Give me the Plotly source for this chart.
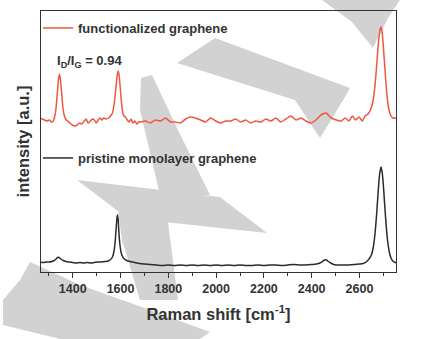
import plotly.graph_objects as go

# Raman spectra (intensity in arbitrary units, functionalized trace offset upward)
functionalized_shift = [
    1262, 1272, 1282, 1292, 1302, 1310, 1318, 1324, 1330, 1335, 1340, 1344, 1348,
    1353, 1358, 1364, 1370, 1378, 1388, 1398, 1408, 1418, 1428, 1438, 1448, 1456,
    1464, 1474, 1482, 1490, 1498, 1506, 1514, 1522, 1530, 1540, 1550, 1558, 1566,
    1572, 1578, 1583, 1587, 1590, 1594, 1598, 1603, 1608, 1614, 1620, 1628, 1636,
    1644, 1652, 1660, 1668, 1676, 1683, 1704, 1725, 1746, 1767, 1788, 1809, 1830,
    1851, 1872, 1893, 1914, 1935, 1956, 1977, 1998, 2019, 2040, 2061, 2082, 2103,
    2124, 2145, 2166, 2187, 2208, 2229, 2250, 2271, 2292, 2313, 2334, 2355, 2376,
    2397, 2418, 2439, 2460, 2482, 2503, 2524, 2540, 2556, 2570, 2584, 2598, 2612,
    2624, 2636, 2646, 2656, 2664, 2670, 2676, 2682, 2687, 2690, 2694, 2699, 2704,
    2710, 2716, 2722, 2730, 2740, 2750, 2760,
]
functionalized_intensity = [
    154, 153, 152, 151, 152, 150, 151, 155, 164, 178, 192, 198, 193,
    180, 166, 157, 153, 151, 149, 147, 146, 147, 149, 148, 151, 153,
    149, 151, 153, 152, 149, 152, 154, 152, 154, 153, 154, 156, 159,
    166, 178, 190, 198, 201, 197, 186, 172, 161, 156, 155, 152, 150,
    153, 149, 151, 148, 150, 150, 151, 149, 152, 151, 154, 150, 150,
    149, 153, 155, 154, 152, 150, 154, 151, 149, 151, 151, 153, 150,
    152, 149, 151, 150, 153, 151, 154, 150, 153, 156, 152, 154, 151,
    149, 152, 157, 159, 154, 152, 151, 154, 151, 156, 152, 155, 151,
    156, 158, 162, 170, 184, 200, 219, 235, 243, 245, 241, 229, 212,
    192, 175, 164, 157, 154, 154, 155,
]

pristine_shift = [
    1262, 1275, 1290, 1305, 1318, 1328, 1336, 1342, 1350, 1360, 1372, 1385, 1400,
    1415, 1430, 1445, 1460, 1475, 1490, 1505, 1520, 1535, 1548, 1558, 1566, 1572,
    1577, 1581, 1585, 1587, 1590, 1593, 1597, 1602, 1608, 1616, 1626, 1640, 1660,
    1680, 1700, 1725, 1750, 1775, 1800, 1825, 1850, 1875, 1900, 1925, 1950, 1975,
    2000, 2025, 2050, 2075, 2100, 2125, 2150, 2175, 2200, 2225, 2250, 2275, 2300,
    2325, 2350, 2375, 2400, 2420, 2435, 2445, 2455, 2462, 2470, 2480, 2492, 2505,
    2530, 2555, 2580, 2600, 2615, 2628, 2640, 2650, 2658, 2665, 2672, 2678, 2684,
    2690, 2695, 2700, 2706, 2712, 2718, 2725, 2732, 2740, 2750, 2760,
]
pristine_intensity = [
    10, 9.5, 10, 10, 11, 12.5, 14.5, 14.5, 13, 11.5, 10.5, 10, 9.5,
    9, 9.5, 9, 9.5, 9, 9.5, 10, 10, 10.5, 11, 12.5, 15, 20,
    29, 42, 54, 57, 52, 40, 28, 20, 15.5, 13, 11.5, 10.5, 9.5,
    8.5, 8, 7.5, 7, 6.5, 7, 6.5, 7, 6.5, 7, 6.5, 7, 6.5,
    7, 6.5, 7, 6.5, 7, 6.5, 6.5, 7, 6.5, 7, 7, 6.5, 7,
    7.5, 7, 7, 7.5, 8, 9, 10.5, 12, 12, 10.5, 9, 7.5, 7,
    7, 7, 7.5, 8, 8.5, 10, 13, 17, 25, 38, 58, 79, 97,
    105, 100, 87, 66, 46, 31, 20, 14, 11, 9.5, 9,
]

series_names = ["functionalized graphene", "pristine monolayer graphene"]
ratio_label = "I<sub>D</sub>/I<sub>G</sub> = 0.94"

x_range = [1267, 2753]
y_range = [0, 261]

# Page geometry (px)
W, H = 422, 339
M_L, M_R, M_T, M_B = 41, 26, 11, 67
PW, PH = W - M_L - M_R, H - M_T - M_B

# Light-grey background watermark outlines, in page pixels
watermark_outlines = [
    [(322, 0), (400, 0), (388, 18), (373, 48), (352, 22)],
    [(177, 63), (215, 38), (350, 88), (345, 97), (320, 138), (295, 100)],
    [(141, 78), (152, 75), (178, 130), (210, 195), (160, 195), (140, 110)],
    [(77, 180), (220, 197), (267, 233), (127, 218)],
    [(118, 212), (168, 222), (178, 300), (140, 300), (122, 240)],
    [(30, 262), (80, 285), (150, 310), (210, 332), (200, 339), (60, 339),
     (3, 325), (3, 300), (20, 280)],
]


def outline_path(points):
    parts = []
    for i, (px, py) in enumerate(points):
        fx = (px - M_L) / PW
        fy = (H - M_B - py) / PH
        parts.append(("M" if i == 0 else "L") + f"{fx:.4f},{fy:.4f}")
    return " ".join(parts) + " Z"


FONT = "Liberation Sans, Arial, sans-serif"
TEXT = "#333333"
RED = "#f0553f"
BLACK = "#2b2b2b"

fig = go.Figure()

fig.add_trace(go.Scatter(
    x=functionalized_shift, y=functionalized_intensity, mode="lines",
    name=series_names[0], line=dict(color=RED, width=1.5, shape="spline", smoothing=0.5),
    legend="legend",
))
fig.add_trace(go.Scatter(
    x=pristine_shift, y=pristine_intensity, mode="lines",
    name=series_names[1], line=dict(color=BLACK, width=1.5, shape="spline", smoothing=0.5),
    legend="legend2",
))

shapes = [
    dict(type="path", xref="paper", yref="paper", path=outline_path(p),
         fillcolor="#d2d2d2", line=dict(width=0), layer="below")
    for p in watermark_outlines
]

fig.add_annotation(
    x=1468, y=211, xref="x", yref="y", text=ratio_label, showarrow=False,
    font=dict(family=FONT, size=13, color=TEXT, weight="bold"),
)

legend_common = dict(
    xanchor="left", yanchor="middle", bgcolor="rgba(0,0,0,0)",
    font=dict(family=FONT, size=13, color=TEXT, weight="bold"),
    borderwidth=0, tracegroupgap=0,
)

fig.update_layout(
    width=W, height=H,
    margin=dict(l=M_L, r=M_R, t=M_T, b=M_B),
    paper_bgcolor="white", plot_bgcolor="white",
    showlegend=True,
    legend=dict(x=(38 - M_L) / PW, y=(H - M_B - 28) / PH, **legend_common),
    legend2=dict(x=(38 - M_L) / PW, y=(H - M_B - 158) / PH, **legend_common),
    shapes=shapes,
    xaxis=dict(
        range=x_range, tick0=1400, dtick=200, ticks="outside", ticklen=5,
        tickwidth=1.3, tickcolor=TEXT, showline=True, linecolor=TEXT,
        linewidth=1.3, mirror=True, showgrid=False, zeroline=False,
        tickfont=dict(family=FONT, size=12.5, color=TEXT, weight="bold"),
        minor=dict(dtick=100, tick0=1300, ticks="outside", ticklen=3,
                   tickwidth=1.2, tickcolor=TEXT, showgrid=False),
        title=dict(text="Raman shift [cm<sup>-1</sup>]", standoff=13,
                   font=dict(family=FONT, size=16.5, color=TEXT, weight="bold")),
    ),
    yaxis=dict(
        range=y_range, showticklabels=False, ticks="", showline=True,
        linecolor=TEXT, linewidth=1.3, mirror=True, showgrid=False,
        zeroline=False,
        title=dict(text="intensity [a.u.]", standoff=6,
                   font=dict(family=FONT, size=16.5, color=TEXT, weight="bold")),
    ),
)

fig.write_html("out.html")
